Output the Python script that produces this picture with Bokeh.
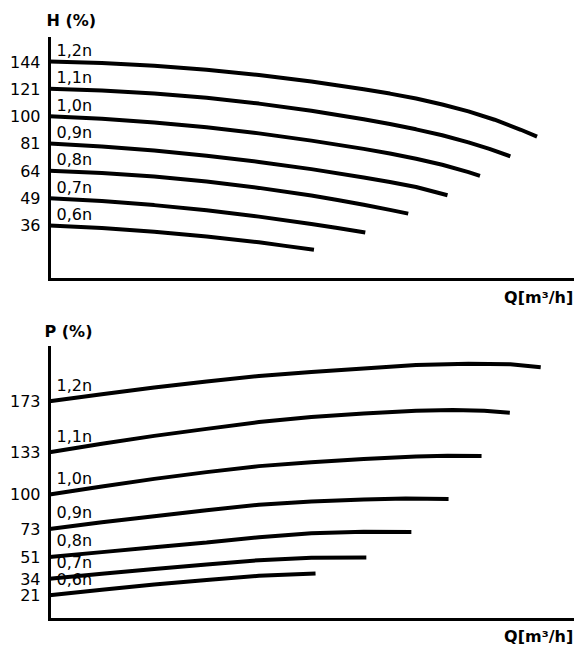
import math
from bokeh.plotting import figure
from bokeh.models import FixedTicker, Label
from bokeh.layouts import column
from bokeh.core.properties import value
from bokeh.embed import file_html
from bokeh.resources import INLINE

# ---------------- data ----------------
SPEED_LABELS = ["1,2n", "1,1n", "1,0n", "0,9n", "0,8n", "0,7n", "0,6n"]
H_TICKS = [144, 121, 100, 81, 64, 49, 36]
P_TICKS = [173, 133, 100, 73, 51, 34, 21]

# head curves  H (%) vs Q
H_12_Q = [0, 10, 20, 30, 40, 50, 60, 65, 70, 75, 80, 85, 90, 93.1]
H_12 = [144, 142.7, 140.3, 136.9, 132.4, 127.0, 120.7, 117.2, 113.3, 108.7, 103.5, 97.4, 90.3, 85.6]
H_11_Q = [0, 10, 20, 30, 40, 50, 60, 65, 70, 75, 80, 84, 88]
H_11 = [121, 119.7, 117.3, 113.9, 109.4, 104.0, 97.8, 94.4, 90.6, 86.5, 81.7, 77.5, 72.8]
H_10_Q = [0, 10, 20, 30, 40, 50, 60, 65, 70, 75, 80, 82.2]
H_10 = [100, 98.1, 95.4, 92.0, 87.8, 82.9, 77.5, 74.6, 71.3, 67.6, 63.2, 61.1]
H_09_Q = [0, 10, 20, 30, 40, 50, 60, 65, 70, 76]
H_09 = [81, 79.0, 76.5, 73.2, 69.3, 65.0, 60.2, 57.6, 54.9, 50.5]
H_08_Q = [0, 10, 20, 30, 40, 50, 55, 60, 65, 68.5]
H_08 = [64, 62.7, 60.7, 57.9, 54.4, 50.4, 48.1, 45.7, 43.2, 41.4]
H_07_Q = [0, 10, 20, 30, 40, 50, 55, 60.3]
H_07 = [49, 47.5, 45.5, 43.0, 40.0, 36.7, 34.9, 33.0]
H_06_Q = [0, 10, 20, 30, 40, 45, 50.5]
H_06 = [36, 34.9, 33.3, 31.3, 29.0, 27.6, 26.1]

# power curves  P (%) vs Q
P_12_Q = [0, 10, 20, 30, 40, 50, 60, 70, 80, 88, 93.8]
P_12 = [173, 178.6, 183.8, 188.5, 192.8, 196.0, 198.7, 201.4, 202.5, 202.0, 199.7]
P_11_Q = [0, 10, 20, 30, 40, 50, 60, 70, 77, 83, 87.9]
P_11 = [133, 139.7, 145.9, 151.4, 156.7, 160.7, 163.4, 165.6, 166.2, 165.6, 164.0]
P_10_Q = [0, 10, 20, 30, 40, 50, 60, 70, 76, 82.5]
P_10 = [100, 106.3, 112.2, 117.5, 122.2, 125.3, 127.7, 129.8, 130.3, 130.1]
P_09_Q = [0, 10, 20, 30, 40, 50, 60, 68, 76.2]
P_09 = [73, 78.2, 83.0, 87.7, 92.0, 94.4, 96.0, 96.9, 96.5]
P_08_Q = [0, 10, 20, 30, 40, 50, 60, 69.1]
P_08 = [51, 54.8, 58.6, 62.4, 66.5, 69.5, 70.8, 70.6]
P_07_Q = [0, 10, 20, 30, 40, 50, 60.5]
P_07 = [34, 37.9, 41.6, 45.1, 48.5, 50.3, 50.5]
P_06_Q = [0, 10, 20, 30, 40, 50.8]
P_06 = [21, 25.4, 29.5, 33.0, 36.2, 38.0]

H_CURVES = [(H_12_Q, H_12), (H_11_Q, H_11), (H_10_Q, H_10), (H_09_Q, H_09),
            (H_08_Q, H_08), (H_07_Q, H_07), (H_06_Q, H_06)]
P_CURVES = [(P_12_Q, P_12), (P_11_Q, P_11), (P_10_Q, P_10), (P_09_Q, P_09),
            (P_08_Q, P_08), (P_07_Q, P_07), (P_06_Q, P_06)]

# ---------------- layout / style ----------------
FONT = "DejaVu Sans"
FS = "16px"
W = 574
Q_AXIS = (0, 100)                 # extent of the Q axis line
Q_VIEW = (-9.357, 100.25)         # whole canvas width
H_AXIS = (4.02, 12.83)            # sqrt(H) display scale, axis extent
H_VIEW = (3.036, 14.232)
P_AXIS = (2, 215.2)
P_VIEW = (-18.38, 247.3)


def make_fig(height, y_view, y_axis, ticks, overrides):
    p = figure(width=W, height=height, x_range=Q_VIEW, y_range=y_view,
               output_backend="svg", toolbar_location=None, min_border=0)
    p.grid.visible = False
    p.outline_line_color = None
    p.background_fill_color = "white"
    p.border_fill_color = "white"
    for ax in (p.xaxis, p.yaxis):
        ax.axis_line_width = 3
        ax.axis_line_color = "black"
        ax.axis_line_cap = "square"
        ax.major_tick_in = 0
        ax.major_tick_out = 0
        ax.minor_tick_in = 0
        ax.minor_tick_out = 0
    p.xaxis.fixed_location = y_axis[0]
    p.xaxis.bounds = Q_AXIS
    p.xaxis.ticker = FixedTicker(ticks=[])
    p.xaxis.major_label_text_font_size = "0px"
    p.yaxis.fixed_location = Q_AXIS[0]
    p.yaxis.bounds = y_axis
    p.yaxis.ticker = FixedTicker(ticks=ticks)
    p.yaxis.major_label_overrides = overrides
    p.yaxis.major_label_text_font = FONT
    p.yaxis.major_label_text_font_size = FS
    p.yaxis.major_label_text_color = "black"
    p.yaxis.major_label_standoff = 9
    return p


def add_titles(p, y_axis, top_text, top_dx, top_dy, bottom_dy):
    p.add_layout(Label(x=Q_AXIS[0], y=y_axis[1], text=top_text,
                       x_offset=top_dx, y_offset=top_dy,
                       text_align="left", text_baseline="middle",
                       text_font=FONT, text_font_size=FS,
                       text_font_style="bold", text_color="black"))
    p.add_layout(Label(x=Q_AXIS[1], y=y_axis[0], text="Q[m³/h]",
                       x_offset=0, y_offset=bottom_dy,
                       text_align="right", text_baseline="middle",
                       text_font=FONT, text_font_size=FS,
                       text_font_style="bold", text_color="black"))


# ---------------- head chart ----------------
p1 = make_fig(306, H_VIEW, H_AXIS, [math.sqrt(v) for v in H_TICKS],
              {int(round(math.sqrt(v))): str(v) for v in H_TICKS})
add_titles(p1, H_AXIS, "H (%)", -3, 18, -18)
for q, h in H_CURVES:
    p1.line(q, [math.sqrt(v) for v in h], line_color="black", line_width=4)
p1.text(x=[c[0][0] for c in H_CURVES], y=[math.sqrt(c[1][0]) for c in H_CURVES],
        text=SPEED_LABELS, x_offset=7, y_offset=-11,
        text_font=value(FONT), text_font_size=FS, text_color="black",
        text_baseline="alphabetic", text_align="left")

# ---------------- power chart ----------------
p2 = make_fig(339, P_VIEW, P_AXIS, P_TICKS, {v: str(v) for v in P_TICKS})
add_titles(p2, P_AXIS, "P (%)", -5, 16, -17)
for q, pv in P_CURVES:
    p2.line(q, pv, line_color="black", line_width=4)
p2.text(x=[c[0][0] for c in P_CURVES], y=[c[1][0] for c in P_CURVES],
        text=SPEED_LABELS, x_offset=7, y_offset=-16,
        text_font=value(FONT), text_font_size=FS, text_color="black",
        text_baseline="alphabetic", text_align="left")

layout = column(p1, p2, spacing=0)
open("out.html", "w").write(file_html(layout, INLINE))
